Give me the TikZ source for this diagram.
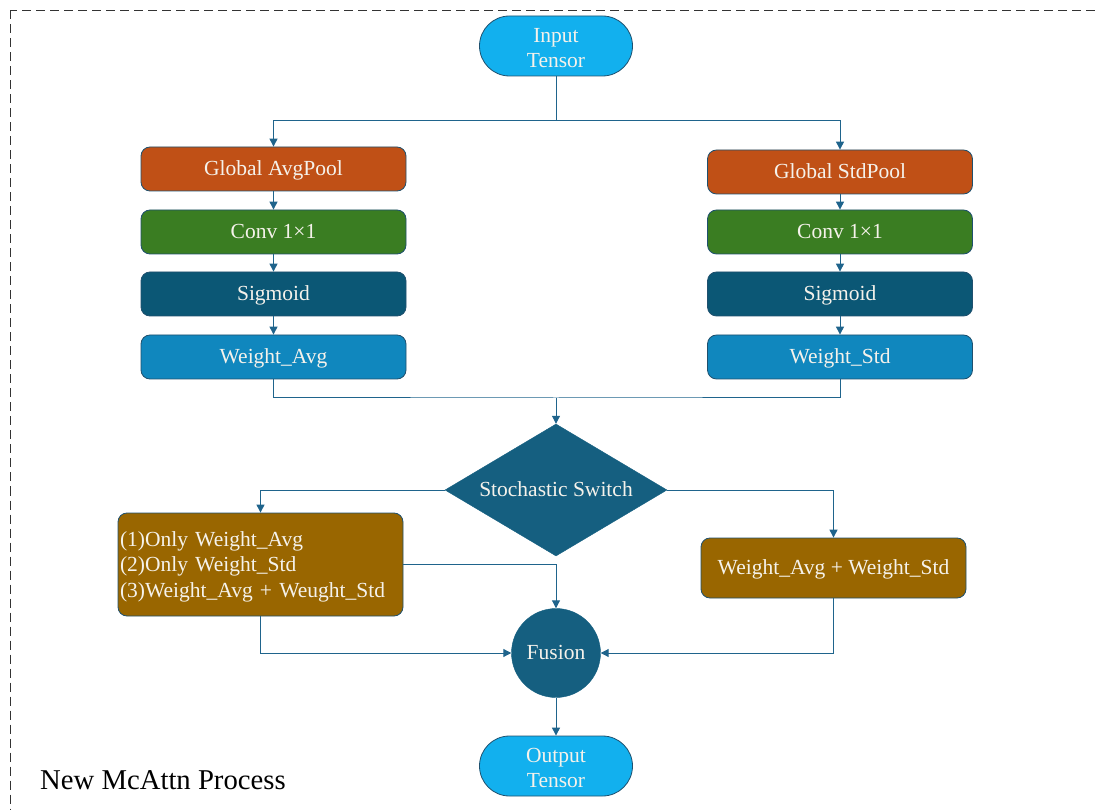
\documentclass[tikz,border=0pt]{standalone}
\usepackage{fontspec}
\setmainfont{Liberation Serif}
\usetikzlibrary{arrows.meta,shapes.geometric}
\definecolor{cOrange}{RGB}{192,80,22}
\definecolor{cGreen}{RGB}{58,125,34}
\definecolor{cSig}{RGB}{11,87,117}
\definecolor{cWeight}{RGB}{16,135,190}
\definecolor{cTerm}{RGB}{18,176,238}
\definecolor{cDia}{RGB}{21,95,128}
\definecolor{cBrown}{RGB}{153,102,0}
\definecolor{cEdge}{RGB}{31,80,110}
\definecolor{cLine}{RGB}{31,100,140}
\definecolor{cText}{RGB}{245,242,235}
\begin{document}
\begin{tikzpicture}[x=1pt,y=-1pt,
  every node/.style={font=\fontsize{21.5}{25.5}\selectfont, text=cText},
  one/.style={text height=17pt, text depth=3.2pt},
  box/.style={draw=cEdge, line width=0.8pt, rounded corners=9pt, minimum width=265pt, minimum height=44pt, inner sep=2pt},
  term/.style={draw=cEdge, line width=0.8pt, fill=cTerm, rounded corners=30pt, minimum width=153pt, minimum height=60pt, align=center, inner sep=1pt},
  line/.style={draw=cLine, line width=1pt},
  conn/.style={line, -{Triangle[width=8pt,length=8pt]}}]
\useasboundingbox (0,0) rectangle (1096,810);
\clip (0,0) rectangle (1096,810);
\draw[dash pattern=on 9pt off 5pt, draw=black!80, line width=1.2pt] (10.5,10.5) rectangle (1130,840);

\node[term] (in) at (556,46) {\rule{0pt}{18pt}Input\\[-1pt]Tensor};

\node[box, one, fill=cOrange] (gap) at (273.5,169) {Global AvgPool};
\node[box, one, fill=cGreen] (c1) at (273.5,232) {Conv 1×1};
\node[box, one, fill=cSig] (s1) at (273.5,294) {Sigmoid};
\node[box, one, fill=cWeight] (wa) at (273.5,357) {Weight\_Avg};

\node[box, one, fill=cOrange] (gsp) at (840,172) {Global StdPool};
\node[box, one, fill=cGreen] (c2) at (840,232) {Conv 1×1};
\node[box, one, fill=cSig] (s2) at (840,294) {Sigmoid};
\node[box, one, fill=cWeight] (ws) at (840,357) {Weight\_Std};

\node[diamond, one, fill=cDia, draw=cDia, minimum width=222pt, minimum height=132pt, aspect=1.68, inner sep=0pt] (sw) at (556,490) {Stochastic Switch};

\node[box, fill=cBrown, minimum width=285pt, minimum height=103pt, text width=281pt, align=left] (lb) at (260.5,564.5)
  {\rule{0pt}{19pt}(1)Only Weight\_Avg\\(2)Only Weight\_Std\\(3)Weight\_Avg + Weught\_Std};
\node[box, one, fill=cBrown, minimum width=265pt, minimum height=60pt] (rb) at (833.5,568) {Weight\_Avg + Weight\_Std};

\node[circle, one, fill=cDia, draw=cDia, minimum size=89pt, inner sep=0pt] (fu) at (556,653) {Fusion};
\node[term] (out) at (556,766) {\rule{0pt}{18pt}Output\\[-1pt]Tensor};

\node[text=black, font=\fontsize{28.7}{32}\selectfont, anchor=west, inner sep=0pt] (title) at (40,780) {New McAttn Process};

\coordinate (split) at (556,121);
\coordinate (merge) at (556,398);
\draw[line] (in.south) -- (split);
\draw[conn] (split) -| (gap.north);
\draw[conn] (split) -| (gsp.north);
\draw[conn] (gap) -- (c1);
\draw[conn] (c1) -- (s1);
\draw[conn] (s1) -- (wa);
\draw[conn] (gsp) -- (c2);
\draw[conn] (c2) -- (s2);
\draw[conn] (s2) -- (ws);
\draw[line] (wa.south) |- (merge) -| (ws.south);
\draw[conn] (merge) -- (sw.north);
\draw[conn] (sw.west) -| (lb.north);
\draw[conn] (sw.east) -| (rb.north);
\draw[conn] (lb.east) -| (fu.north);
\draw[conn] (lb.south) |- (fu.west);
\draw[conn] (rb.south) |- (fu.east);
\draw[conn] (fu.south) -- (out.north);
\end{tikzpicture}
\end{document}
